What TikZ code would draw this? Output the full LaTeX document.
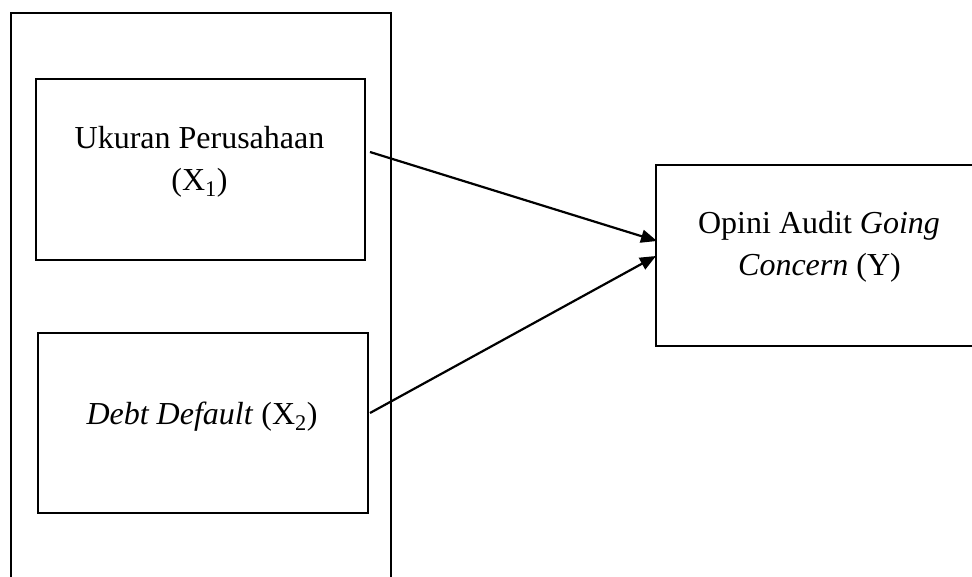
\documentclass[tikz,border=0pt]{standalone}
\usepackage{fontspec}
\setmainfont{Liberation Serif}
\usetikzlibrary{arrows.meta}
\begin{document}
\begin{tikzpicture}[x=1pt,y=-1pt,
  box/.style={draw, line width=2.2pt, inner sep=0pt, anchor=north west},
  lbl/.style={anchor=base, inner sep=0pt, font=\fontsize{32}{42}\selectfont},
  conn/.style={line width=2.2pt, -{Triangle[length=16pt,width=13pt]}}]
\useasboundingbox (0,0) rectangle (972,576);
\clip (0,0) rectangle (972,576);
\node[box, minimum width=380pt, minimum height=620pt] (outer) at (10,12) {};
\node[box, minimum width=329pt, minimum height=181pt] (x1) at (35,78) {};
\node[box, minimum width=330pt, minimum height=180pt] (x2) at (37,332) {};
\node[box, minimum width=330pt, minimum height=181pt] (y) at (655,164) {};
\node[lbl] (t1a) at (199.5,148) {Ukuran Perusahaan};
\node[lbl] (t1b) at (199.5,190) {(X\textsubscript{1})};
\node[lbl] (t2) at (202,424) {\textit{Debt Default} (X\textsubscript{2})};
\node[lbl] (t3a) at (819,233) {Opini Audit \textit{Going}};
\node[lbl] (t3b) at (819.5,275) {\textit{Concern} (Y)};
\coordinate (s1) at (370,152);
\coordinate (s2) at (370,413);
\coordinate (e1) at (657,241);
\coordinate (e2) at (656,256);
\draw[conn] (s1) -- (e1);
\draw[conn] (s2) -- (e2);
\end{tikzpicture}
\end{document}
